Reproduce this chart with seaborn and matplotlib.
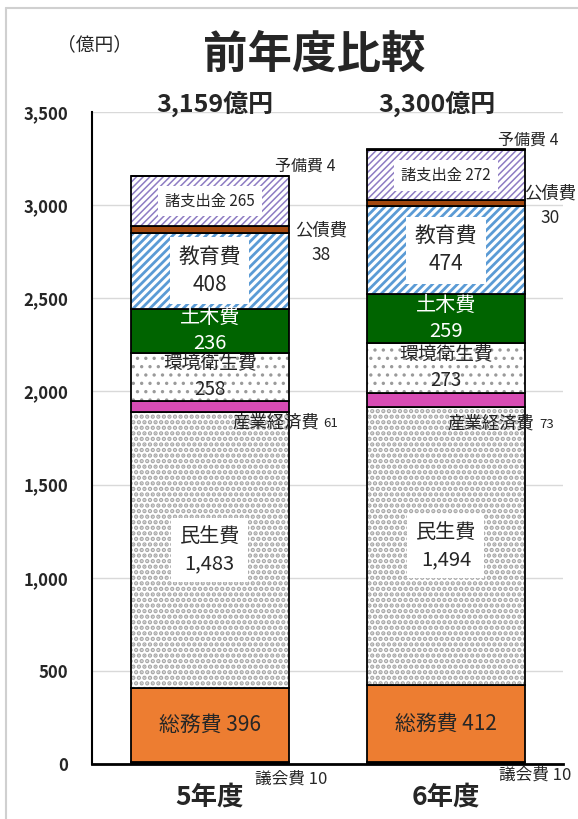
import matplotlib.pyplot as plt
from matplotlib.lines import Line2D
import numpy as np
import seaborn as sns

# data
years = ['5年度', '6年度']
total_labels = ['3,159億円', '3,300億円']
items = ['議会費', '総務費', '民生費', '産業経済費', '環境衛生費',
         '土木費', '教育費', '公債費', '諸支出金', '予備費']
values_5 = [10, 396, 1483, 61, 258, 236, 408, 38, 265, 4]
values_6 = [10, 412, 1494, 73, 273, 259, 474, 30, 272, 4]

# face colour, hatch, hatch colour, hatch width
styles = {
    '議会費': ('#1f3864', None, None, 0),
    '総務費': ('#ed7d31', None, None, 0),
    '民生費': ('white', '...', '#a6a6a6', 2.2),
    '産業経済費': ('#d84cb4', None, None, 0),
    '環境衛生費': ('white', '..', '#9a9a9a', 1.2),
    '土木費': ('#006400', None, None, 0),
    '教育費': ('white', '////', '#5b9bd5', 2.0),
    '公債費': ('#a3480e', None, None, 0),
    '諸支出金': ('white', '/////', '#8e7cc3', 1.1),
    '予備費': ('#7a62a8', None, None, 0),
}

sns.set_style('white')
plt.rcParams['font.family'] = ['Noto Sans CJK JP', 'DejaVu Sans']

fig, ax = plt.subplots(figsize=(5.78, 8.19), dpi=100)
fig.subplots_adjust(left=92/578, right=563/578, bottom=1-764/819, top=1-112/819)

vals = np.array([values_5, values_6])
bottoms = np.zeros(2)
W = 0.667
for i, name in enumerate(items):
    face, hatch, hcol, hlw = styles[name]
    h = vals[:, i]
    n0 = len(ax.patches)
    with plt.rc_context({'hatch.linewidth': hlw if hatch else 1.0}):
        sns.barplot(x=years, y=h, bottom=bottoms, width=W, color=face, saturation=1, ax=ax)
    for p in ax.patches[n0:]:
        p.set_facecolor(face)
        if hatch:
            p.set_edgecolor(hcol)
            p.set_hatch(hatch)
            p.set_linewidth(0)
        else:
            p.set_edgecolor('black')
            p.set_linewidth(1.3)
    if hatch:
        n0 = len(ax.patches)
        sns.barplot(x=years, y=h, bottom=bottoms, width=W, color='white', saturation=1, ax=ax)
        for p in ax.patches[n0:]:
            p.set_facecolor('none')
            p.set_edgecolor('black')
            p.set_linewidth(1.3)
    bottoms = bottoms + h

ax.set_xlim(-0.499, 1.496)
ax.set_ylim(0, 3500)
ax.set_yticks(range(0, 3501, 500))
ax.set_yticklabels([f'{v:,}' for v in range(0, 3501, 500)], fontweight='bold', fontsize=12)
ax.tick_params(axis='y', length=0, pad=17)
ax.tick_params(axis='x', length=0, pad=14)
ax.set_xticks([0, 1])
ax.set_xticklabels(years, fontweight='bold', fontsize=19)
ax.set_xlabel('')
ax.set_ylabel('')
ax.yaxis.grid(True, color='#d9d9d9', lw=1)
ax.set_axisbelow(True)
for s in ['top', 'right']:
    ax.spines[s].set_visible(False)
ax.spines['left'].set_color('black')
ax.spines['left'].set_linewidth(1.5)
ax.spines['bottom'].set_color('black')
ax.spines['bottom'].set_linewidth(2)

white_box = dict(facecolor='white', edgecolor='none', pad=6)
k = {n: idx for idx, n in enumerate(items)}
for j in range(2):
    v = vals[j]
    tops = np.cumsum(v)
    starts = tops - v
    mids = starts + v / 2

    ax.text(j, mids[k['総務費']], f'総務費 {v[k["総務費"]]}', ha='center', va='center', fontsize=15)
    ax.text(j, mids[k['民生費']], f'民生費\n{v[k["民生費"]]:,}', ha='center', va='center',
            fontsize=14.5, linespacing=1.35, bbox=white_box)
    ax.text(j, mids[k['環境衛生費']], f'環境衛生費\n{v[k["環境衛生費"]]}', ha='center', va='center',
            fontsize=13.5, linespacing=1.3)
    ax.text(j, mids[k['土木費']], f'土木費\n{v[k["土木費"]]}', ha='center', va='center',
            fontsize=14.5, linespacing=1.3, color='white')
    ax.text(j, mids[k['教育費']], f'教育費\n{v[k["教育費"]]}', ha='center', va='center',
            fontsize=15, linespacing=1.35, bbox=white_box)
    ax.text(j, mids[k['諸支出金']], f'諸支出金 {v[k["諸支出金"]]}', ha='center', va='center',
            fontsize=11, bbox=dict(facecolor='white', edgecolor='none', boxstyle='square,pad=0.45'))

    # outside labels
    ax.text(j + [0.278, 0.221][j], tops[-1] + 50, f'予備費 {v[k["予備費"]]}', ha='left', va='center',
            fontsize=11.5, clip_on=False)
    ax.text(j + [0.47, 0.442][j], mids[k['公債費']] - [75, 15][j],
            f'公債費\n{v[k["公債費"]]}', ha='center', va='center', fontsize=12.5,
            linespacing=1.45, clip_on=False)
    t = ax.text(j + [0.096, 0.008][j], starts[k['産業経済費']] - [56, 88][j], '産業経済費',
                ha='left', va='center', fontsize=12.5, clip_on=False)
    ax.annotate(f'{v[k["産業経済費"]]}', xy=(1, 0.45), xycoords=t, xytext=(3, 0),
                textcoords='offset points', ha='left', va='center', fontsize=9.5)
    ax.text(j + [0.346, 0.38][j], -[80, 62][j], f'議会費 {v[k["議会費"]]}', ha='center', va='center',
            fontsize=12, clip_on=False)
    ax.text(j + [0.023, -0.038][j], 3545, total_labels[j], ha='center', va='center',
            fontsize=18, fontweight='bold', clip_on=False)

fig.text(95/578, 1-45/819, '（億円）', ha='center', va='center', fontsize=13.5)
fig.text(314/578, 1-55/819, '前年度比較', ha='center', va='center', fontsize=32, fontweight='bold')

# chart frame
fig.add_artist(Line2D([6/578, 6/578], [0, 1-8/819], transform=fig.transFigure, color='#d0d0d0', lw=1.5))
fig.add_artist(Line2D([6/578, 1], [1-8/819, 1-8/819], transform=fig.transFigure, color='#d0d0d0', lw=1.5))

fig.savefig('out.png', dpi=100)
